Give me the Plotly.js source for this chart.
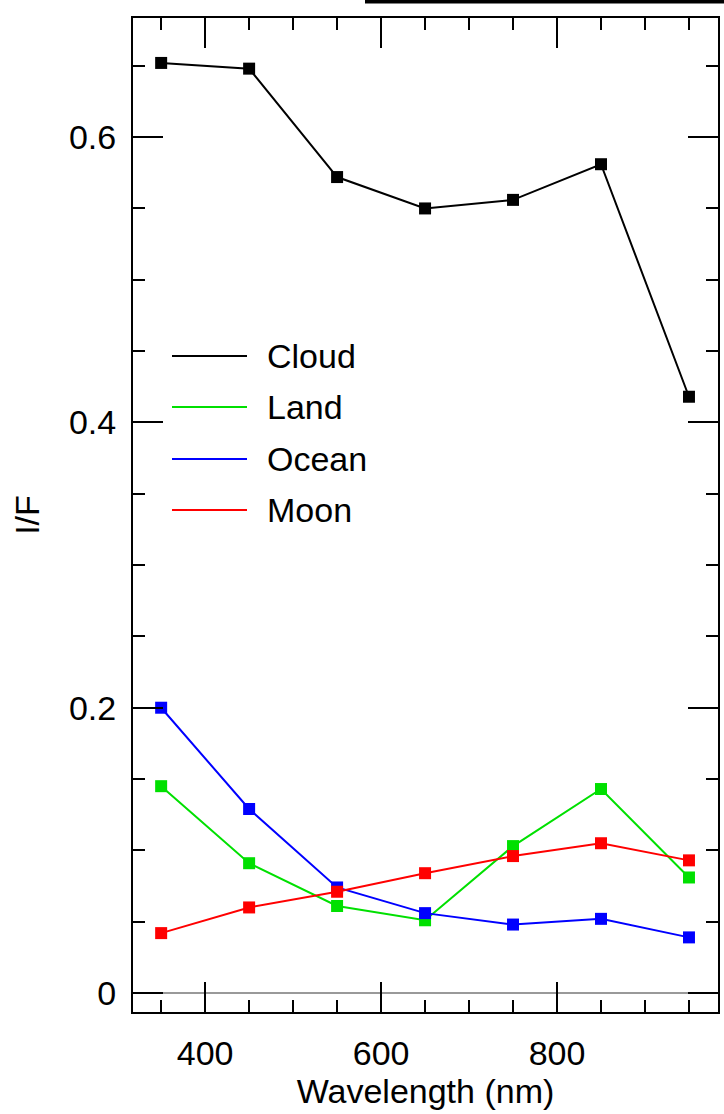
<!DOCTYPE html>
<html>
<head>
<meta charset="utf-8">
<script src="https://cdn.plot.ly/plotly-3.0.1.min.js"></script>
<style>html,body{margin:0;padding:0;background:#fff;}#chart{width:724px;height:1114px;}</style>
</head>
<body>
<div id="chart"></div>
<script>
const wavelength = [350, 450, 550, 650, 750, 850, 950];
const cloud = [0.652, 0.648, 0.572, 0.550, 0.556, 0.581, 0.418];
const land  = [0.145, 0.091, 0.061, 0.051, 0.103, 0.143, 0.081];
const ocean = [0.200, 0.129, 0.074, 0.056, 0.048, 0.052, 0.039];
const moon  = [0.042, 0.060, 0.071, 0.084, 0.096, 0.105, 0.093];
const seriesNames = ["Cloud", "Land", "Ocean", "Moon"];
const seriesColors = ["#000000", "#00e000", "#0000ff", "#ff0000"];
const seriesData = [cloud, land, ocean, moon];
const xTickVals = [400, 600, 800];
const yTickVals = [0, 0.2, 0.4, 0.6];
const yTickText = ["0", "0.2", "0.4", "0.6"];

const FONT = "Liberation Sans, Arial, Helvetica, sans-serif";
const FS = 34;

const traces = seriesData.map((ys, i) => ({
  x: wavelength, y: ys, type: "scatter", mode: "lines+markers",
  name: seriesNames[i], showlegend: false,
  line: {color: seriesColors[i], width: 2},
  marker: {symbol: "square", size: 12, color: seriesColors[i]}
}));

// custom legend: line samples + labels in paper coordinates
const legX0 = (172 - 133) / 585, legX1 = (247 - 133) / 585, legTX = (265 - 133) / 585;
const legY = [356, 407, 459, 510].map(p => 1 - (p - 18) / 994);
const shapes = seriesNames.map((n, i) => ({
  type: "line", xref: "paper", yref: "paper",
  x0: legX0, x1: legX1, y0: legY[i], y1: legY[i],
  line: {color: seriesColors[i], width: 2}
}));
shapes.push({type: "line", xref: "paper", yref: "paper",
  x0: (365 - 133) / 585, x1: 1.02, y0: 1 + 16.3 / 994, y1: 1 + 16.3 / 994,
  line: {color: "#000", width: 3.5}});
const annotations = seriesNames.map((n, i) => ({
  xref: "paper", yref: "paper", x: legTX, y: legY[i],
  xanchor: "left", yanchor: "middle", text: n, showarrow: false,
  font: {family: FONT, size: FS, color: "#000"}
}));

const axisCommon = {
  showline: true, linecolor: "#000", linewidth: 2, mirror: "allticks",
  ticks: "inside", ticklen: 30, tickwidth: 2, tickcolor: "#000",
  showgrid: false, tickfont: {family: FONT, size: FS, color: "#000"}
};

const layout = {
  width: 724, height: 1114,
  margin: {l: 133, r: 6, t: 18, b: 102},
  paper_bgcolor: "#fff", plot_bgcolor: "#fff",
  showlegend: false,
  xaxis: Object.assign({}, axisCommon, {
    range: [318, 983], tickvals: xTickVals, zeroline: false,
    minor: {dtick: 50, tick0: 0, ticks: "inside", ticklen: 12, tickwidth: 2, tickcolor: "#000", showgrid: false},
    ticklabelstandoff: 10,
    title: {text: "Wavelength (nm)", font: {family: FONT, size: FS, color: "#000"}, standoff: 6}
  }),
  yaxis: Object.assign({}, axisCommon, {
    range: [-0.0133, 0.6835], tickvals: yTickVals, ticktext: yTickText,
    zeroline: true, zerolinecolor: "#999", zerolinewidth: 1.5,
    minor: {dtick: 0.05, tick0: 0, ticks: "inside", ticklen: 12, tickwidth: 2, tickcolor: "#000", showgrid: false},
    ticklabelstandoff: 8,
    title: {text: "I/F", font: {family: FONT, size: FS, color: "#000"}, standoff: 19}
  }),
  shapes: shapes,
  annotations: annotations
};

Plotly.newPlot("chart", traces, layout, {displayModeBar: false, staticPlot: true});
</script>
</body>
</html>
